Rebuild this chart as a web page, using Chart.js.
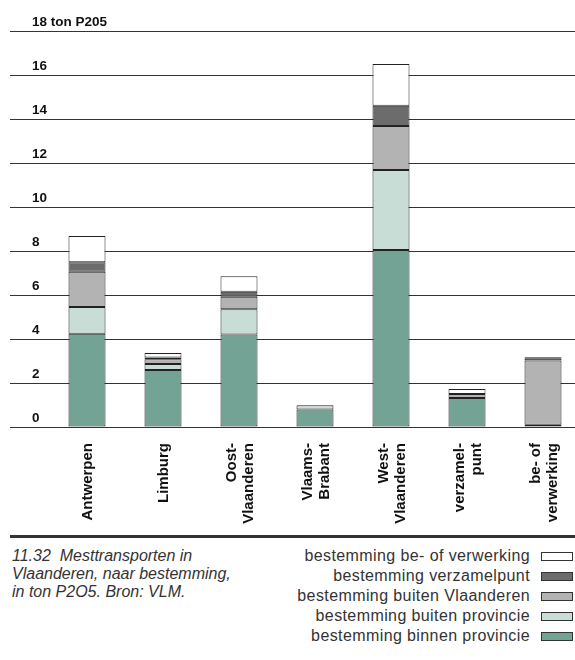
<!DOCTYPE html>
<html>
<head>
<meta charset="utf-8">
<script src="https://cdn.jsdelivr.net/npm/chart.js@4"></script>
<style>
  html, body { margin: 0; padding: 0; background: #fff; overflow: hidden; }
  #marco { position: relative; width: 575px; height: 660px; overflow: hidden; }
  #grafica { position: absolute; left: 0; top: 0; }
  #linea { position: absolute; left: 10px; top: 535px; width: 565px; height: 3px; background: #333; }
  #pie { position: absolute; left: 12px; top: 547px; font: italic 16px/18px "Liberation Sans", Arial, sans-serif; color: #333; }
  #leyenda { position: absolute; right: 2px; top: 546px; font: 16px/20px "Liberation Sans", Arial, sans-serif; color: #333; letter-spacing: 0.4px; }
  .fila { display: flex; justify-content: flex-end; align-items: center; height: 20px; }
  .caja { width: 30px; height: 7px; border: 1px solid #333; margin-left: 11px; margin-top: 1px; }
</style>
</head>
<body>
<div id="marco">
  <canvas id="grafica" width="581" height="527"></canvas>
  <div id="linea"></div>
  <div id="pie">11.32&nbsp; Mesttransporten in<br>Vlaanderen, naar bestemming,<br>in ton P2O5. Bron: VLM.</div>
  <div id="leyenda"></div>
</div>
<script>
// categorie챘n (x-as)
const regiones = ['Antwerpen', 'Limburg', ['Oost-', 'Vlaanderen'], ['Vlaams-', 'Brabant'],
  ['West-', 'Vlaanderen'], ['verzamel-', 'punt'], ['be- of', 'verwerking']];

// reeksen, van onder naar boven
const binnenProvincie = [4.24, 2.59, 4.21, 0.79, 8.05, 1.32, 0.10];
const buitenProvincie = [1.21, 0.27, 1.14, 0.20, 3.63, 0.00, 0.00];
const buitenVlaanderen = [1.61, 0.22, 0.57, 0.00, 2.00, 0.18, 2.92];
const verzamelpunt = [0.43, 0.08, 0.23, 0.00, 0.92, 0.00, 0.10];
const beVerwerking = [1.19, 0.20, 0.70, 0.00, 1.90, 0.23, 0.05];

const nombres = ['bestemming binnen provincie', 'bestemming buiten provincie',
  'bestemming buiten Vlaanderen', 'bestemming verzamelpunt', 'bestemming be- of verwerking'];
const colores = ['#73a395', '#c9ddd7', '#b3b3b3', '#6c6c6c', '#ffffff'];

// y-as
const ticksY = [0, 2, 4, 6, 8, 10, 12, 14, 16, 18];
const unidad = 'ton P205';

const series = [binnenProvincie, buitenProvincie, buitenVlaanderen, verzamelpunt, beVerwerking];

// etiquetas de los ejes dibujadas a mano
const etiquetas = {
  id: 'etiquetas',
  afterDraw(chart) {
    const c = chart.ctx;
    const ey = chart.scales.y;
    const ex = chart.scales.x;
    c.save();
    c.fillStyle = '#111';
    c.font = 'bold 13.5px "Liberation Sans", Arial, sans-serif';
    c.textAlign = 'left';
    c.textBaseline = 'alphabetic';
    ticksY.forEach(v => {
      const txt = v === ticksY[ticksY.length - 1] ? v + ' ' + unidad : String(v);
      c.fillText(txt, 32, ey.getPixelForValue(v) - 5);
    });

    c.font = 'bold 15px "Liberation Sans", Arial, sans-serif';
    c.textAlign = 'right';
    c.textBaseline = 'middle';
    regiones.forEach((lab, i) => {
      const lineas = [].concat(lab);
      const px = ex.getPixelForTick(i);
      c.save();
      c.translate(px + 1, 443);
      c.rotate(-Math.PI / 2);
      lineas.forEach((l, j) => c.fillText(l, 0, (j - (lineas.length - 1) / 2) * 17));
      c.restore();
    });
    c.restore();
  }
};

new Chart(document.getElementById('grafica').getContext('2d'), {
  type: 'bar',
  data: {
    labels: regiones,
    datasets: series.map((d, i) => ({
      label: nombres[i],
      data: d,
      backgroundColor: colores[i],
      borderColor: '#222',
      borderWidth: 1,
      borderSkipped: false,
      categoryPercentage: 1,
      barPercentage: 0.487
    }))
  },
  options: {
    responsive: false,
    animation: false,
    layout: { padding: { left: 10, top: 31, right: 0, bottom: 0 } },
    plugins: { legend: { display: false }, tooltip: { enabled: false } },
    scales: {
      x: {
        stacked: true,
        grid: { display: false },
        border: { display: false },
        ticks: { display: false },
        afterFit: s => { s.height = 100; }
      },
      y: {
        stacked: true,
        min: 0,
        max: 18,
        ticks: { display: false, stepSize: 2 },
        grid: { color: '#333', lineWidth: 1, drawTicks: true, tickLength: 39 },
        border: { display: false },
        afterFit: s => { s.width = 39; }
      }
    }
  },
  plugins: [etiquetas]
});

// leyenda
const leyenda = document.getElementById('leyenda');
for (let i = nombres.length - 1; i >= 0; i--) {
  const fila = document.createElement('div');
  fila.className = 'fila';
  fila.innerHTML = `<span>${nombres[i]}</span><span class="caja" style="background:${colores[i]}"></span>`;
  leyenda.appendChild(fila);
}
</script>
</body>
</html>
